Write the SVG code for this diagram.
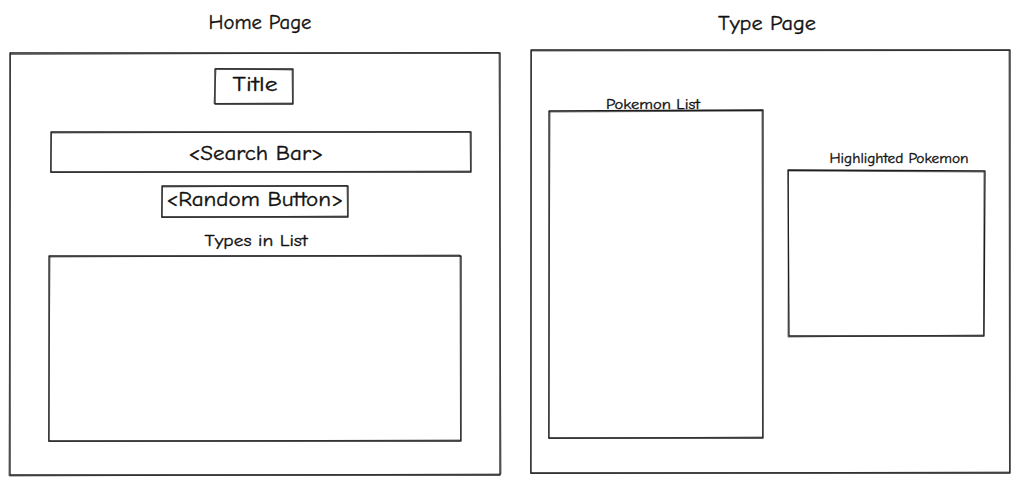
<svg xmlns="http://www.w3.org/2000/svg" width="1020" height="484" viewBox="0 0 1020 484">
  <style>
    .sk { fill: none; stroke: #1e1e1e; stroke-width: 1.3; stroke-linecap: round; stroke-linejoin: round; }
    .sk2 { fill: none; stroke: #1e1e1e; stroke-width: 0.8; stroke-linecap: round; opacity: 0.8; }
    .lbl { font-family: "Comic Neue", "Liberation Sans", sans-serif; fill: #111111; text-anchor: middle; stroke: #111111; stroke-width: 0.35; }
  </style>
  <rect width="1020" height="484" fill="#ffffff"/>

  <!-- Home page wireframe -->
  <g id="home-page">
    <text class="lbl" x="260" y="29" font-size="20" textLength="103" lengthAdjust="spacingAndGlyphs">Home Page</text>
    <path class="sk" d="M10 53 L500 53 L500 475 L10 475 Z"/>
    <path class="sk2" d="M11 54.5 L499 52.5 L501 474 L9 476 L10.5 53"/>
  </g>
  <g id="title">
    <path class="sk" d="M215 69 L293 69 L293 104 L215 104 Z"/>
    <path class="sk2" d="M216 68.5 L292 70 L292.5 103 L214 103.5 L216 70"/>
    <text class="lbl" x="255" y="91" font-size="21" textLength="45" lengthAdjust="spacingAndGlyphs">Title</text>
  </g>
  <g id="search-bar">
    <path class="sk" d="M51 132 L471 132 L471 172 L51 172 Z"/>
    <path class="sk2" d="M52 133 L470 131.5 L470.5 171 L50.5 172.5 L51.5 133"/>
    <text class="lbl" x="256" y="160" font-size="20" textLength="135" lengthAdjust="spacingAndGlyphs">&lt;Search Bar&gt;</text>
  </g>
  <g id="random-button">
    <path class="sk" d="M162 186 L348 186 L348 217 L162 217 Z"/>
    <path class="sk2" d="M163 187 L347 185.5 L347.5 216 L161.5 217.5 L162.5 187"/>
    <text class="lbl" x="255" y="206" font-size="20" textLength="177" lengthAdjust="spacingAndGlyphs">&lt;Random Button&gt;</text>
  </g>
  <g id="types-list">
    <text class="lbl" x="256" y="246" font-size="16" textLength="103" lengthAdjust="spacingAndGlyphs">Types in List</text>
    <path class="sk" d="M49 256 L461 256 L461 441 L49 441 Z"/>
    <path class="sk2" d="M50 257 L460 255 L460.5 440 L48.5 441.5 L50 257"/>
  </g>

  <!-- Type page wireframe -->
  <g id="type-page">
    <text class="lbl" x="767" y="30" font-size="20" textLength="98" lengthAdjust="spacingAndGlyphs">Type Page</text>
    <path class="sk" d="M531 50 L1010 50 L1010 473 L531 473 Z"/>
    <path class="sk2" d="M532 51 L1009 50.5 L1009.5 472 L530.5 473.5 L531.5 51"/>
  </g>
  <g id="pokemon-list">
    <text class="lbl" x="653" y="109" font-size="14" textLength="94" lengthAdjust="spacingAndGlyphs">Pokemon List</text>
    <path class="sk" d="M549 111 L763 110 L763 438 L549 438 Z"/>
    <path class="sk2" d="M550 112 L762 111 L762.5 437 L548.5 438.5 L550 112"/>
  </g>
  <g id="highlighted-pokemon">
    <text class="lbl" x="899" y="163" font-size="14" textLength="139" lengthAdjust="spacingAndGlyphs">Highlighted Pokemon</text>
    <path class="sk" d="M788 170 L985 171 L984 336 L789 336 Z"/>
    <path class="sk2" d="M789 171 L984 172 L983.5 335 L788 337 L788.5 171"/>
  </g>
</svg>
